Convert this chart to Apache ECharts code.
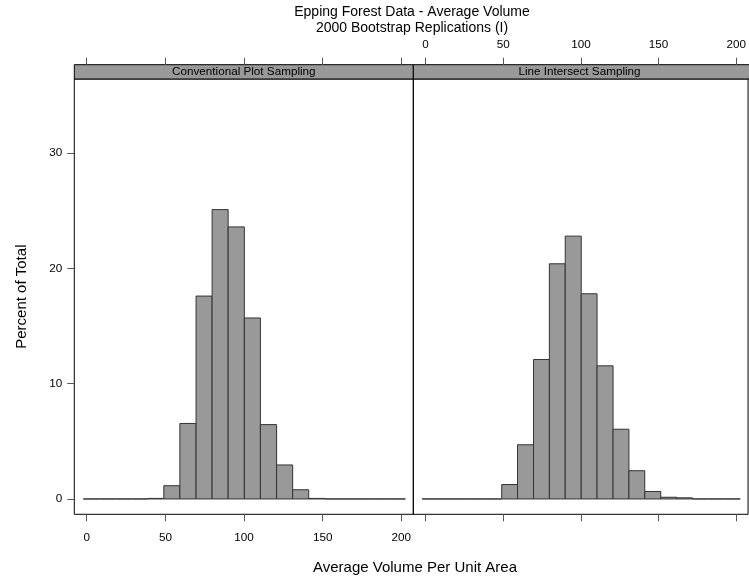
<!DOCTYPE html>
<html>
<head>
<meta charset="utf-8">
<script src="https://cdn.jsdelivr.net/npm/echarts@6/dist/echarts.min.js"></script>
<style>
  html, body { margin: 0; padding: 0; background: #fff; }
  #main { width: 749px; height: 579px; }
</style>
</head>
<body>
<div id="main"></div>
<script>
// 直方图分箱边界（两个面板共用）
const binEdges = [-2.2, 8.0, 18.3, 28.5, 38.7, 49.0, 59.2, 69.5, 79.7, 89.9, 100.2,
  110.4, 120.7, 130.9, 141.1, 151.4, 161.6, 171.8, 182.1, 192.3, 202.6];
// 每个分箱的百分比
const conventionalPct = [0, 0, 0, 0, 0.05, 1.15, 6.55, 17.6, 25.1, 23.6,
  15.7, 6.45, 2.95, 0.8, 0.05, 0, 0, 0, 0, 0];
const lineIntersectPct = [0, 0, 0, 0, 0, 1.25, 4.7, 12.1, 20.4, 22.8,
  17.8, 11.55, 6.05, 2.45, 0.65, 0.15, 0.1, 0, 0, 0];
const panelNames = ['Conventional Plot Sampling', 'Line Intersect Sampling'];
const xTicks = [0, 50, 100, 150, 200];
const yTicks = [0, 10, 20, 30];

const font = 'Liberation Sans, Arial, Helvetica, sans-serif';
const xMin = -7.9, xMax = 207.6;
const yMin = -1.33, yMax = 36.43;
const stripH = 14.3;
const tickFont = 11.7;

// 组装成 [起点, 终点, 百分比]
function toBins(pct) {
  return pct.map((p, i) => [binEdges[i], binEdges[i + 1], p]);
}

function renderBar(params, api) {
  const p0 = api.coord([api.value(0), api.value(2)]);
  const p1 = api.coord([api.value(1), 0]);
  return {
    type: 'rect',
    shape: { x: p0[0], y: p0[1], width: p1[0] - p0[0], height: p1[1] - p0[1] },
    style: { fill: '#999999', stroke: '#333333', lineWidth: 1 }
  };
}

function xAxisCfg(gridIndex, position, showLabel) {
  return {
    type: 'value',
    gridIndex: gridIndex,
    position: position,
    offset: position === 'top' ? stripH : 0,
    min: xMin,
    max: xMax,
    axisLine: { show: false, onZero: false },
    splitLine: { show: false },
    axisTick: {
      show: true,
      length: 7,
      customValues: xTicks,
      lineStyle: { color: '#555' }
    },
    axisLabel: {
      show: showLabel,
      customValues: xTicks,
      margin: position === 'top' ? 14 : 17,
      fontFamily: font,
      fontSize: tickFont,
      color: '#000'
    }
  };
}

const panelLeft = [74.3, 413.3];
const panelW = 339;
const panelTop = 79;
const panelH = 435.3;

const option = {
  animation: false,
  backgroundColor: '#fff',
  grid: panelLeft.map(l => ({
    left: l,
    top: panelTop,
    width: panelW,
    height: panelH,
    show: true,
    borderColor: '#000',
    borderWidth: 1,
    backgroundColor: 'transparent'
  })),
  xAxis: [
    xAxisCfg(0, 'bottom', true),
    xAxisCfg(0, 'top', false),
    xAxisCfg(1, 'bottom', false),
    xAxisCfg(1, 'top', true)
  ],
  yAxis: [
    {
      type: 'value',
      gridIndex: 0,
      position: 'left',
      min: yMin,
      max: yMax,
      name: 'Percent of Total',
      nameLocation: 'middle',
      nameRotate: 90,
      nameGap: 45,
      nameTextStyle: { fontFamily: font, fontSize: 15, color: '#000' },
      axisLine: { show: false, onZero: false },
      splitLine: { show: false },
      axisTick: { show: true, length: 7, customValues: yTicks, lineStyle: { color: '#555' } },
      axisLabel: { customValues: yTicks, margin: 12, fontFamily: font, fontSize: tickFont, color: '#000' }
    },
    {
      type: 'value',
      gridIndex: 1,
      min: yMin,
      max: yMax,
      show: false
    }
  ],
  series: [
    {
      type: 'custom',
      name: panelNames[0],
      xAxisIndex: 0,
      yAxisIndex: 0,
      renderItem: renderBar,
      encode: { x: [0, 1], y: 2 },
      data: toBins(conventionalPct)
    },
    {
      type: 'custom',
      name: panelNames[1],
      xAxisIndex: 2,
      yAxisIndex: 1,
      renderItem: renderBar,
      encode: { x: [0, 1], y: 2 },
      data: toBins(lineIntersectPct)
    }
  ],
  graphic: [
    // 面板标题条
    ...panelLeft.map((l, i) => ({
      type: 'group',
      children: [
        {
          type: 'rect',
          shape: { x: l, y: panelTop - stripH, width: panelW, height: stripH },
          style: { fill: '#999999', stroke: '#000', lineWidth: 1 }
        },
        {
          type: 'text',
          x: l + panelW / 2 - (i === 1 ? 3.3 : 0),
          y: panelTop - stripH / 2,
          style: {
            text: panelNames[i], fontFamily: font, fontSize: tickFont, fill: '#000',
            align: 'center', verticalAlign: 'middle'
          }
        }
      ]
    })),
    {
      type: 'text', x: 412, y: 12,
      style: {
        text: 'Epping Forest Data - Average Volume', fontFamily: font, fontSize: 14,
        fill: '#000', align: 'center', verticalAlign: 'middle'
      }
    },
    {
      type: 'text', x: 412, y: 28,
      style: {
        text: '2000 Bootstrap Replications (I)', fontFamily: font, fontSize: 14,
        fill: '#000', align: 'center', verticalAlign: 'middle'
      }
    },
    {
      type: 'text', x: 415, y: 568,
      style: {
        text: 'Average Volume Per Unit Area', fontFamily: font, fontSize: 15,
        fill: '#000', align: 'center', verticalAlign: 'middle'
      }
    }
  ]
};

const chart = echarts.init(document.getElementById('main'), null, { renderer: 'canvas' });
chart.setOption(option);
</script>
</body>
</html>
